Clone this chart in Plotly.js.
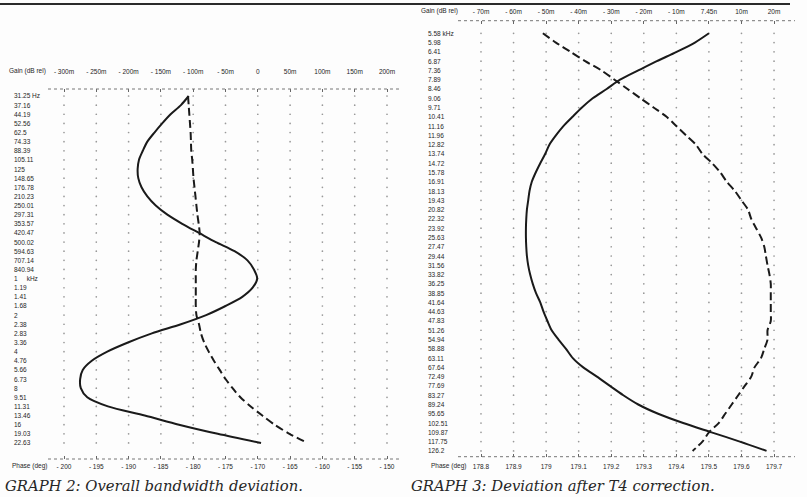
<!DOCTYPE html>
<html><head><meta charset="utf-8">
<script src="https://cdn.plot.ly/plotly-3.0.1.min.js"></script>
<style>html,body{margin:0;padding:0;background:#fdfdfd;}#chart{width:807px;height:497px;}</style>
</head><body><div id="chart"></div>
<script>
// ---------- GRAPH 2 data ----------
var freqL = ['31.25\u00a0Hz','37.16','44.19','52.56','62.5','74.33','88.39','105.11','125','148.65','176.78','210.23','250.01','297.31','353.57','420.47','500.02','594.63','707.14','840.94','1\u00a0\u00a0\u00a0\u00a0\u00a0kHz','1.19','1.41','1.68','2','2.38','2.83','3.36','4','4.76','5.66','6.73','8','9.51','11.31','13.46','16','19.03','22.63'];
var gainL = [-107,-119,-135,-148,-160,-171,-178,-184,-186,-185,-180,-171,-158,-140,-117,-91,-65,-36,-16,-6,-1,-8,-24,-50,-80,-119,-164,-201,-233,-257,-271,-275,-274,-264,-232,-175,-122,-62,5];
var phaseL = [-180.8,-180.7,-180.6,-180.5,-180.4,-180.35,-180.3,-180.15,-180.05,-179.95,-179.8,-179.65,-179.5,-179.35,-179.15,-179.0,-179.1,-179.3,-179.5,-179.6,-179.6,-179.6,-179.6,-179.6,-179.5,-179.1,-178.8,-178.3,-177.6,-176.8,-175.9,-175.0,-173.9,-172.7,-171.1,-169.3,-167.4,-165.1,-162.3];
var gainTicksL = [-300,-250,-200,-150,-100,-50,0,50,100,150,200];
var gainTextL = ['- 300m','- 250m','- 200m','- 150m','- 100m','- 50m','0','50m','100m','150m','200m'];
var phaseTicksL = [-200,-195,-190,-185,-180,-175,-170,-165,-160,-155,-150];
var phaseTextL = ['- 200','- 195','- 190','- 185','- 180','- 175','- 170','- 165','- 160','- 155','- 150'];

// ---------- GRAPH 3 data ----------
var freqR = ['5.58\u00a0kHz','5.98','6.41','6.87','7.36','7.89','8.46','9.06','9.71','10.41','11.16','11.96','12.82','13.74','14.72','15.78','16.91','18.13','19.43','20.82','22.32','23.92','25.63','27.47','29.44','31.56','33.82','36.25','38.85','41.64','44.63','47.83','51.26','54.94','58.88','63.11','67.64','72.49','77.69','83.27','89.24','95.65','102.51','109.87','117.75','126.2'];
var gainR = [0,-4.3,-9.9,-16,-21.7,-27.3,-31.4,-35.7,-39,-41.9,-44.7,-47,-49,-50.3,-51.8,-53.2,-54.4,-55.1,-55.5,-55.9,-56.1,-56.2,-56.2,-56.1,-55.9,-55.5,-54.9,-54.1,-53.1,-51.8,-50.8,-49.6,-48.3,-46.2,-43.9,-41.8,-38.6,-34.4,-30.4,-26.3,-21.7,-15.6,-7.9,0.8,9.5,17.7];
var phaseR = [178.99,179.03,179.075,179.12,179.17,179.21,179.25,179.29,179.33,179.37,179.40,179.43,179.46,179.48,179.51,179.535,179.555,179.58,179.60,179.62,179.63,179.645,179.66,179.67,179.675,179.68,179.686,179.69,179.69,179.69,179.69,179.69,179.68,179.68,179.67,179.66,179.64,179.63,179.61,179.59,179.57,179.55,179.53,179.50,179.48,179.45];
var gainTicksR = [-70,-60,-50,-40,-30,-20,-10,0,10,20];
var gainTextR = ['- 70m','- 60m','- 50m','- 40m','- 30m','- 20m','- 10m','7.45n','10m','20m'];
var phaseTicksR = [178.8,178.9,179,179.1,179.2,179.3,179.4,179.5,179.6,179.7];
var phaseTextR = ['178.8','178.9','179','179.1','179.2','179.3','179.4','179.5','179.6','179.7'];

// ---------- geometry helpers (pixels -> paper) ----------
var W = 807, H = 497;
function px(p){ return p / W; }
function py(p){ return 1 - p / H; }
var INK = '#1a1a1a', TXT = '#262626', DOT = '#999999';
var FONT = 'Liberation Sans, Arial, sans-serif';

// dot grids
function grid(ticks, cats){
  var gx = [], gy = [];
  ticks.forEach(function(t){ cats.forEach(function(c){ gx.push(t); gy.push(c); }); });
  return {x: gx, y: gy};
}
var gL = grid(gainTicksL, freqL), gR = grid(gainTicksR, freqR);

var traces = [
  {x: gL.x, y: gL.y, xaxis: 'x', yaxis: 'y', mode: 'markers', type: 'scatter', hoverinfo: 'skip',
   marker: {size: 1.7, color: DOT}},
  {x: gainL, y: freqL, xaxis: 'x', yaxis: 'y', mode: 'lines', type: 'scatter', name: 'Gain',
   line: {color: INK, width: 2, shape: 'spline', smoothing: 0.8}},
  {x: phaseL, y: freqL, xaxis: 'x2', yaxis: 'y', mode: 'lines', type: 'scatter', name: 'Phase',
   line: {color: INK, width: 2, dash: '8px,4px', shape: 'spline', smoothing: 0.8}},
  {x: gR.x, y: gR.y, xaxis: 'x3', yaxis: 'y2', mode: 'markers', type: 'scatter', hoverinfo: 'skip',
   marker: {size: 1.7, color: DOT}},
  {x: gainR, y: freqR, xaxis: 'x3', yaxis: 'y2', mode: 'lines', type: 'scatter', name: 'Gain',
   line: {color: INK, width: 2, shape: 'spline', smoothing: 0.8}},
  {x: phaseR, y: freqR, xaxis: 'x4', yaxis: 'y2', mode: 'lines', type: 'scatter', name: 'Phase',
   line: {color: INK, width: 2, dash: '8px,4px', shape: 'spline', smoothing: 0.8}}
];

// left: -300 at x=64px, 32.3px per 50m; domain 48..400px
var sL = 50 / 32.3;
var gL0 = -300 - (64 - 48) * sL, gL1 = -300 + (400 - 64) * sL;
// right: -70 at x=481px, 32.56px per 10m; domain 458..795px
var sR = 10 / 32.56;
var gR0 = -70 - (481 - 458) * sR, gR1 = -70 + (795 - 481) * sR;

function xax(dom, rng, side, ticks, text, overlay, standoff){
  var a = {domain: [px(dom[0]), px(dom[1])], range: rng, side: side, anchor: overlay.anchor,
    tickmode: 'array', tickvals: ticks, ticktext: text, showgrid: false, zeroline: false,
    showline: false, ticks: 'inside', ticklen: 3, tickcolor: '#666', tickwidth: 1,
    tickfont: {family: FONT, size: 6.5, color: TXT}, ticklabelstandoff: standoff,
    fixedrange: true};
  if (overlay.overlaying) a.overlaying = overlay.overlaying;
  return a;
}

var layout = {
  width: W, height: H, autosize: false,
  margin: {l: 0, r: 0, t: 0, b: 0},
  paper_bgcolor: '#fdfdfd', plot_bgcolor: 'rgba(0,0,0,0)',
  showlegend: false,
  font: {family: FONT, color: TXT},
  xaxis: xax([48, 400], [gL0, gL1], 'top', gainTicksL, gainTextL, {anchor: 'y'}, 13),
  xaxis2: xax([48, 400], [-200 + (gL0 + 300) / 10, -200 + (gL1 + 300) / 10], 'bottom', phaseTicksL, phaseTextL, {anchor: 'y', overlaying: 'x'}, 2),
  xaxis3: xax([458, 795], [gR0, gR1], 'top', gainTicksR, gainTextR, {anchor: 'y2'}, 4),
  xaxis4: xax([458, 795], [178.8 + (gR0 + 70) / 100, 178.8 + (gR1 + 70) / 100], 'bottom', phaseTicksR, phaseTextR, {anchor: 'y2', overlaying: 'x3'}, 5),
  yaxis: {domain: [py(459), py(89)], type: 'category', categoryorder: 'array', categoryarray: freqL,
    range: [(459 - 96) / 9.13, (89 - 96) / 9.13], showticklabels: false, showgrid: false,
    zeroline: false, showline: false, ticks: '', anchor: 'x', fixedrange: true},
  yaxis2: {domain: [py(456.7), py(20.7)], type: 'category', categoryorder: 'array', categoryarray: freqR,
    range: [(456.7 - 33.3) / 9.28, (20.7 - 33.3) / 9.28], showticklabels: false, showgrid: false,
    zeroline: false, showline: false, ticks: '', anchor: 'x3', fixedrange: true},
  shapes: [
    {type: 'line', xref: 'paper', yref: 'paper', x0: 0, x1: px(790), y0: py(4), y1: py(4), line: {color: '#2a2a2a', width: 2}},
    {type: 'line', xref: 'x domain', yref: 'y domain', x0: 0, x1: 1, y0: 1, y1: 1, line: {color: '#777', width: 1, dash: 'dot'}},
    {type: 'line', xref: 'x domain', yref: 'y domain', x0: 0, x1: 1, y0: 0, y1: 0, line: {color: '#777', width: 1, dash: 'dot'}},
    {type: 'line', xref: 'x3 domain', yref: 'y2 domain', x0: 0, x1: 1, y0: 1, y1: 1, line: {color: '#777', width: 1, dash: 'dot'}},
    {type: 'line', xref: 'x3 domain', yref: 'y2 domain', x0: 0, x1: 1, y0: 0, y1: 0, line: {color: '#777', width: 1, dash: 'dot'}}
  ],
  annotations: []
};

var ann = layout.annotations;
// frequency labels: positioned by category index on the category axes
freqL.forEach(function(f, i){
  ann.push({xref: 'paper', yref: 'y', x: px(12), y: i, text: f, showarrow: false, xanchor: 'left', yanchor: 'middle',
    font: {family: FONT, size: 6.5, color: TXT}});
});
freqR.forEach(function(f, i){
  ann.push({xref: 'paper', yref: 'y2', x: px(426), y: i, text: f, showarrow: false, xanchor: 'left', yanchor: 'middle',
    font: {family: FONT, size: 6.5, color: TXT}});
});
function label(t, x, y){
  ann.push({xref: 'paper', yref: 'paper', x: px(x), y: py(y), text: t, showarrow: false, xanchor: 'left', yanchor: 'middle',
    font: {family: FONT, size: 6.5, color: TXT}});
}
label('Gain (dB rel)', 7, 71);
label('Phase (deg)', 10, 466);
label('Gain (dB rel)', 419, 11);
label('Phase (deg)', 429, 466);
function caption(t, x){
  ann.push({xref: 'paper', yref: 'paper', x: px(x), y: py(485), text: '<i>' + t + '</i>', showarrow: false,
    xanchor: 'left', yanchor: 'middle', font: {family: 'DejaVu Serif, serif', size: 14.8, color: '#262626'}});
}
caption('GRAPH 2: Overall bandwidth deviation.', 3);
caption('GRAPH 3: Deviation after T4 correction.', 409);

Plotly.newPlot('chart', traces, layout, {displayModeBar: false, staticPlot: true});
</script></body></html>
